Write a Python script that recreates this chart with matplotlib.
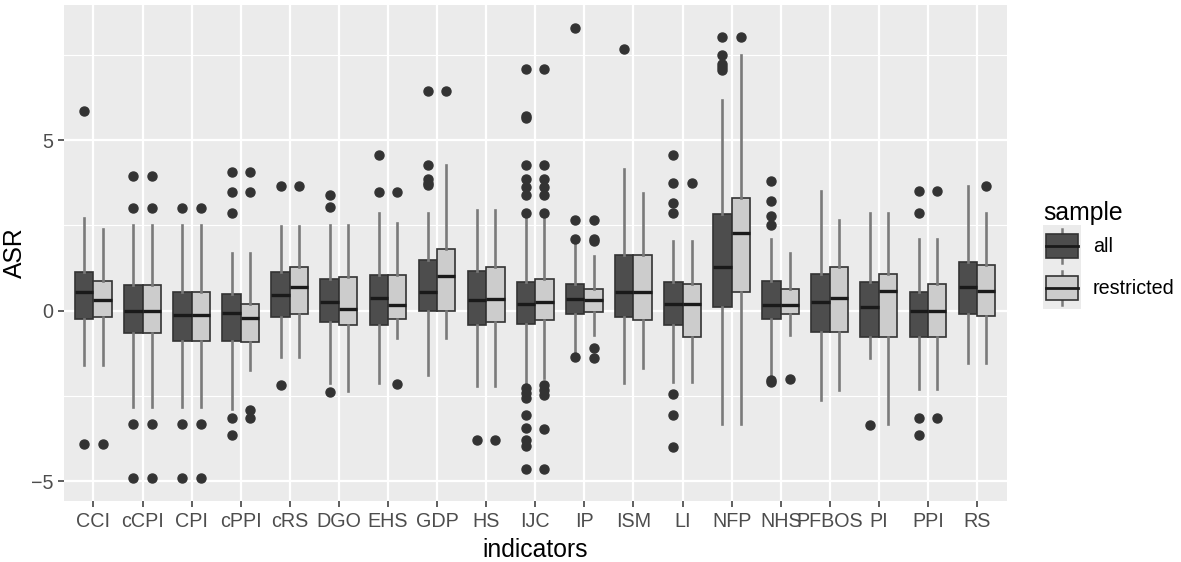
import numpy as np
import matplotlib
matplotlib.use("Agg")
import matplotlib.pyplot as plt
from matplotlib.patches import Rectangle, Patch
from matplotlib.lines import Line2D
from matplotlib.legend_handler import HandlerBase

plt.rcParams['font.family'] = ['Liberation Sans', 'DejaVu Sans']

# ---- data ----
categories = ["CCI", "cCPI", "CPI", "cPPI", "cRS", "DGO", "EHS", "GDP", "HS", "IJC",
              "IP", "ISM", "LI", "NFP", "NHS", "PFBOS", "PI", "PPI", "RS"]

# sample = all
all_q1 = [-0.25, -0.66, -0.88, -0.88, -0.19, -0.33, -0.43, 0.00, -0.43, -0.38,
          -0.10, -0.19, -0.43, 0.12, -0.24, -0.62, -0.78, -0.78, -0.10]
all_med = [0.56, 0.00, -0.14, -0.08, 0.46, 0.25, 0.36, 0.56, 0.30, 0.20,
           0.35, 0.55, 0.20, 1.29, 0.17, 0.25, 0.12, 0.00, 0.70]
all_q3 = [1.14, 0.74, 0.54, 0.50, 1.12, 0.93, 1.04, 1.48, 1.17, 0.84,
          0.79, 1.62, 0.84, 2.83, 0.88, 1.08, 0.84, 0.55, 1.42]
all_lo = [-1.59, -2.81, -2.81, -2.88, -1.35, -2.12, -2.12, -1.88, -2.22, -2.17,
          -1.30, -2.12, -2.08, -3.32, -1.95, -2.61, -1.39, -2.30, -1.52]
all_hi = [2.72, 2.52, 2.52, 1.70, 2.48, 2.52, 2.87, 2.87, 2.96, 2.72,
          1.97, 4.16, 2.05, 6.18, 2.09, 3.50, 2.87, 2.09, 3.65]
all_out = [
    [5.84, -3.90],
    [3.94, 3.00, -3.31, -4.92],
    [3.00, -3.31, -4.92],
    [4.07, 3.49, 2.87, -3.16, -3.64],
    [3.65, -2.19],
    [3.40, 3.05, -2.39],
    [4.57, 3.49],
    [6.45, 4.28, 3.85, 3.74, 3.67],
    [-3.80],
    [7.09, 5.70, 5.65, 4.28, 3.85, 3.63, 3.38, 2.85,
     -2.27, -2.42, -2.56, -3.05, -3.44, -3.78, -3.98, -4.63],
    [8.30, 2.67, 2.09, -1.36],
    [7.67],
    [4.57, 3.74, 3.16, 2.87, -2.44, -3.07, -4.00],
    [8.03, 7.50, 7.23, 7.13, 7.06],
    [3.79, 3.21, 2.77, 2.52, -2.03, -2.08],
    [],
    [-3.36],
    [3.50, 2.87, -3.16, -3.64],
    [],
]

# sample = restricted
res_q1 = [-0.19, -0.66, -0.88, -0.91, -0.10, -0.43, -0.24, 0.00, -0.33, -0.28,
          -0.05, -0.28, -0.78, 0.55, -0.10, -0.62, -0.78, -0.78, -0.15]
res_med = [0.31, 0.00, -0.14, -0.23, 0.70, 0.06, 0.17, 1.03, 0.35, 0.25,
           0.30, 0.55, 0.20, 2.29, 0.17, 0.36, 0.59, 0.00, 0.59]
res_q3 = [0.88, 0.74, 0.54, 0.20, 1.29, 0.99, 1.04, 1.82, 1.29, 0.94,
          0.64, 1.62, 0.79, 3.30, 0.64, 1.29, 1.08, 0.79, 1.33]
res_lo = [-1.59, -2.81, -2.81, -1.73, -1.35, -2.37, -0.81, -0.81, -2.22, -1.98,
          -0.71, -1.69, -2.08, -3.32, -0.71, -2.32, -3.32, -2.30, -1.52]
res_hi = [2.38, 2.52, 2.52, 1.70, 2.48, 2.52, 2.57, 4.28, 2.96, 2.72,
          1.60, 3.45, 2.05, 7.48, 1.70, 2.67, 2.87, 2.09, 2.87]
res_out = [
    [-3.90],
    [3.94, 3.00, -3.31, -4.92],
    [3.00, -3.31, -4.92],
    [4.07, 3.49, -2.90, -3.16],
    [3.65],
    [],
    [3.49, -2.14],
    [6.45],
    [-3.80],
    [7.09, 4.28, 3.85, 3.63, 3.38, 2.85, -2.17, -2.32, -2.47, -3.46, -4.63],
    [2.67, 2.09, 2.05, -1.10, -1.39],
    [],
    [3.74],
    [8.03],
    [-2.00],
    [],
    [],
    [3.50, -3.16],
    [3.65],
]

groups = ["all", "restricted"]
fills = ["#4d4d4d", "#cccccc"]


def make_stats(q1, med, q3, lo, hi, out):
    stats = []
    for i in range(len(q1)):
        stats.append(dict(q1=q1[i], med=med[i], q3=q3[i], whislo=lo[i],
                          whishi=hi[i], fliers=out[i]))
    return stats


fig = plt.figure(figsize=(11.81, 5.62), dpi=100)
ax = fig.add_axes([64 / 1181, 1 - 501 / 562, (1006.5 - 64) / 1181, 496 / 562])
ax.set_facecolor("#ebebeb")

x = np.arange(len(categories))
series = [
    make_stats(all_q1, all_med, all_q3, all_lo, all_hi, all_out),
    make_stats(res_q1, res_med, res_q3, res_lo, res_hi, res_out),
]
for k, (st, fc) in enumerate(zip(series, fills)):
    offset = -0.1875 if k == 0 else 0.1875
    ax.bxp(st, positions=x + offset, widths=0.375, patch_artist=True,
           showcaps=False, manage_ticks=False,
           boxprops=dict(facecolor=fc, edgecolor="#333333", linewidth=1.2),
           whiskerprops=dict(color="#7a7a7a", linewidth=1.9),
           medianprops=dict(color="#1a1a1a", linewidth=2.4),
           flierprops=dict(marker="o", markerfacecolor="#333333",
                           markeredgecolor="#333333", markersize=6.5))

ax.set_xlim(-0.6, len(categories) - 0.4)
ax.set_ylim(-5.58, 8.96)
ax.set_xticks(x)
ax.set_xticklabels(categories)
ax.set_yticks([-5, 0, 5])
ax.set_yticks([-2.5, 2.5, 7.5], minor=True)
ax.grid(which="major", color="white", linewidth=1.6)
ax.grid(which="minor", axis="y", color="white", linewidth=0.8)
ax.set_axisbelow(True)
for s in ax.spines.values():
    s.set_visible(False)
ax.tick_params(which="major", length=4.3, width=1.1, color="#333333",
               labelcolor="#4d4d4d", labelsize=14.2, pad=3.5)
ax.tick_params(which="minor", length=0)

ax.set_xlabel("indicators", fontsize=17.8, color="black", labelpad=5)
ax.set_ylabel("ASR", fontsize=17.8, color="black", labelpad=3)


class BoxKey(HandlerBase):
    def create_artists(self, legend, orig_handle, xdescent, ydescent,
                       width, height, fontsize, trans):
        bg = Rectangle((-xdescent, -ydescent), width, height,
                       facecolor="#ebebeb", edgecolor="none", transform=trans)
        cx = -xdescent + width / 2
        wh = Line2D([cx, cx], [-ydescent + 0.1 * height, -ydescent + 0.9 * height],
                    color="#7a7a7a", linewidth=1.8, transform=trans)
        box = Rectangle((-xdescent + 0.07 * width, -ydescent + 0.22 * height),
                        0.86 * width, 0.56 * height,
                        facecolor=orig_handle.get_facecolor(), edgecolor="#333333",
                        linewidth=1.2, transform=trans)
        med = Line2D([-xdescent + 0.07 * width, -xdescent + 0.93 * width],
                     [-ydescent + 0.5 * height] * 2,
                     color="#1a1a1a", linewidth=2.0, transform=trans)
        return [bg, wh, box, med]


handles = [Patch(facecolor=fc) for fc in fills]
leg = ax.legend(handles, groups, handler_map={Patch: BoxKey()},
                title="sample", loc="upper left",
                bbox_to_anchor=(1043 / 1181, 1 - 201 / 562),
                bbox_transform=fig.transFigure, frameon=False,
                fontsize=14.2, title_fontsize=17.8, alignment="left",
                handlelength=1.93, handleheight=2.9, labelspacing=0.0,
                handletextpad=0.61, borderpad=0.0, borderaxespad=0.0)

fig.savefig("out.png", dpi=100)
